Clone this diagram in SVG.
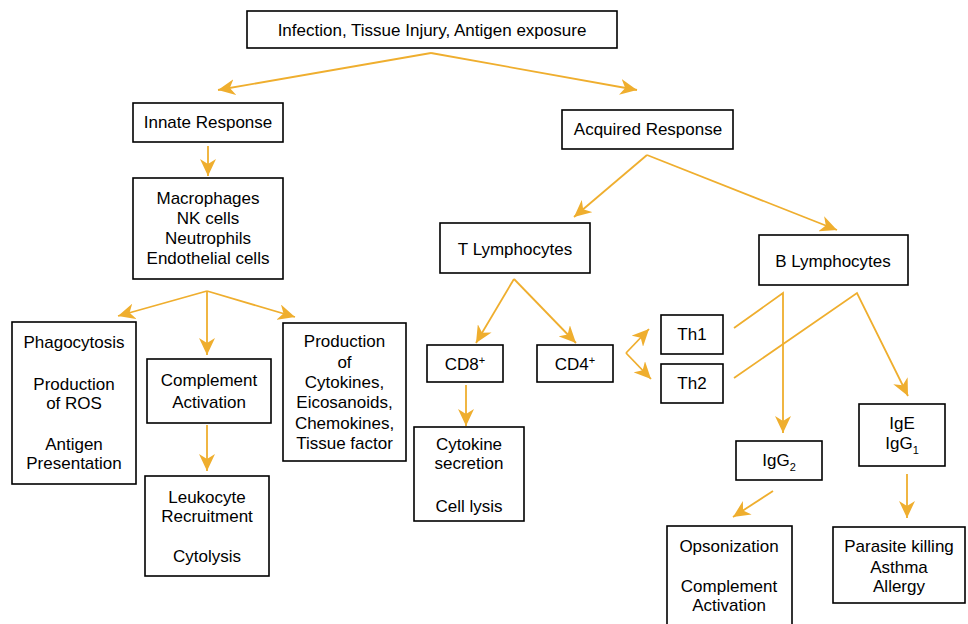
<svg xmlns="http://www.w3.org/2000/svg" width="968" height="624" viewBox="0 0 968 624">
<style>
.box{fill:#fff;stroke:#000;stroke-width:1.6}
.t{font-family:"Liberation Sans",Arial,sans-serif;font-size:17px;fill:#000;text-anchor:middle}
.c{fill:none;stroke:#EFAE2E;stroke-width:1.8;marker-end:url(#ah)}
.s{font-size:11px}
</style>
<defs>
<marker id="ah" markerUnits="userSpaceOnUse" markerWidth="18" markerHeight="16" viewBox="0 0 18 16" refX="17" refY="8" orient="auto">
<path d="M0,0 L17,8 L0,16 L5,8 Z" fill="#EFAE2E"/>
</marker>
</defs>
<rect width="968" height="624" fill="#fff"/>
<g id="connectors">
<path class="c" d="M431,53 L218,90"/>
<path class="c" d="M431,53 L637,90"/>
<path class="c" d="M208,146 L208,176"/>
<path class="c" d="M207,291 L118,316"/>
<path class="c" d="M207,291 L207,355"/>
<path class="c" d="M207,291 L295,317"/>
<path class="c" d="M207,425 L207,471"/>
<path class="c" d="M647,155 L574,217"/>
<path class="c" d="M647,155 L837,230"/>
<path class="c" d="M514,279 L476,343"/>
<path class="c" d="M514,279 L576,343"/>
<path class="c" d="M626,353 L649,329"/>
<path class="c" d="M626,353 L651,379"/>
<path class="c" d="M466,385 L466,426"/>
<path class="c" d="M734,328 L783,293 L783,433"/>
<path class="c" d="M734,378 L857,293 L908,396"/>
<path class="c" d="M773,491 L733,517"/>
<path class="c" d="M907,474 L907,518"/>
</g>
<g id="n-top"><rect class="box" x="247" y="11" width="370" height="37"/><text class="t" x="432" y="36">Infection, Tissue Injury, Antigen exposure</text></g>
<g id="n-innate"><rect class="box" x="133" y="103" width="150" height="39"/><text class="t" x="208" y="128">Innate Response</text></g>
<g id="n-cells"><rect class="box" x="133" y="178" width="150" height="101"/>
<text class="t" x="208" y="204">Macrophages</text><text class="t" x="208" y="224">NK cells</text><text class="t" x="208" y="244">Neutrophils</text><text class="t" x="208" y="264">Endothelial cells</text></g>
<g id="n-phago"><rect class="box" x="12" y="322" width="124" height="162"/>
<text class="t" x="74" y="348">Phagocytosis</text><text class="t" x="74" y="390">Production</text><text class="t" x="74" y="409">of ROS</text><text class="t" x="74" y="450">Antigen</text><text class="t" x="74" y="469">Presentation</text></g>
<g id="n-complement"><rect class="box" x="147" y="359" width="124" height="64"/>
<text class="t" x="209" y="386">Complement</text><text class="t" x="209" y="408">Activation</text></g>
<g id="n-leuko"><rect class="box" x="145" y="476" width="124" height="100"/>
<text class="t" x="207" y="503">Leukocyte</text><text class="t" x="207" y="522">Recruitment</text><text class="t" x="207" y="562">Cytolysis</text></g>
<g id="n-production"><rect class="box" x="283" y="323" width="123" height="138"/>
<text class="t" x="344.5" y="347">Production</text><text class="t" x="344.5" y="368">of</text><text class="t" x="344.5" y="388">Cytokines,</text><text class="t" x="344.5" y="408">Eicosanoids,</text><text class="t" x="344.5" y="429">Chemokines,</text><text class="t" x="344.5" y="449">Tissue factor</text></g>
<g id="n-acquired"><rect class="box" x="562" y="110" width="171" height="39"/><text class="t" x="648" y="135">Acquired Response</text></g>
<g id="n-tlymph"><rect class="box" x="440" y="223" width="150" height="50"/><text class="t" x="515" y="255">T Lymphocytes</text></g>
<g id="n-blymph"><rect class="box" x="759" y="235" width="149" height="50"/><text class="t" x="833" y="267">B Lymphocytes</text></g>
<g id="n-cd8"><rect class="box" x="427" y="345" width="76" height="37"/><text class="t" x="465" y="370">CD8<tspan class="s" dy="-6">+</tspan></text></g>
<g id="n-cd4"><rect class="box" x="537" y="345" width="76" height="37"/><text class="t" x="575" y="370">CD4<tspan class="s" dy="-6">+</tspan></text></g>
<g id="n-th1"><rect class="box" x="661" y="315" width="62" height="39"/><text class="t" x="692" y="340">Th1</text></g>
<g id="n-th2"><rect class="box" x="661" y="364" width="62" height="39"/><text class="t" x="692" y="389">Th2</text></g>
<g id="n-cytokine"><rect class="box" x="414" y="427" width="110" height="94"/>
<text class="t" x="469" y="450">Cytokine</text><text class="t" x="469" y="469">secretion</text><text class="t" x="469" y="512">Cell lysis</text></g>
<g id="n-igg2"><rect class="box" x="736" y="441" width="86" height="39"/><text class="t" x="779" y="466">IgG<tspan class="s" dy="5">2</tspan></text></g>
<g id="n-ige"><rect class="box" x="859" y="404" width="86" height="62"/>
<text class="t" x="902" y="429">IgE</text><text class="t" x="902" y="449">IgG<tspan class="s" dy="5">1</tspan></text></g>
<g id="n-opson"><rect class="box" x="667" y="526" width="125" height="102"/>
<text class="t" x="729" y="552">Opsonization</text><text class="t" x="729" y="592">Complement</text><text class="t" x="729" y="611">Activation</text></g>
<g id="n-parasite"><rect class="box" x="833" y="527" width="132" height="76"/>
<text class="t" x="899" y="552">Parasite killing</text><text class="t" x="899" y="573">Asthma</text><text class="t" x="899" y="592">Allergy</text></g>
</svg>
